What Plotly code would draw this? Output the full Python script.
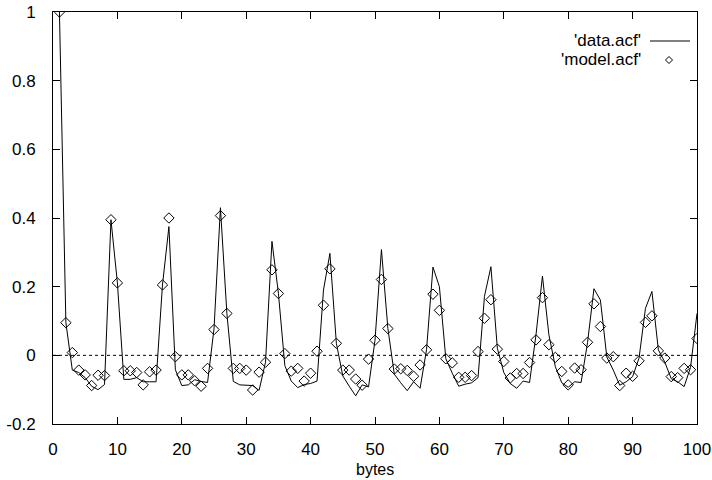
import plotly.graph_objects as go

lags = list(range(1, 101))

data_acf = [
    1.000, 0.095, -0.043, -0.050, -0.065, -0.090, -0.100, -0.085, 0.395, 0.211,
    -0.070, -0.070, -0.065, -0.077, -0.077, -0.077, 0.205, 0.375, -0.042, -0.088,
    -0.086, -0.071, -0.076, -0.079, 0.077, 0.430, 0.122, -0.076, -0.086, -0.086,
    -0.088, -0.102, -0.020, 0.332, 0.181, -0.030, -0.075, -0.094, -0.085, -0.082,
    -0.075, 0.190, 0.297, 0.035, -0.060, -0.090, -0.118, -0.086, -0.092, 0.044,
    0.308, 0.078, -0.055, -0.080, -0.103, -0.077, -0.096, 0.016, 0.257, 0.200,
    -0.010, -0.052, -0.090, -0.084, -0.080, -0.065, 0.172, 0.258, 0.020, -0.050,
    -0.082, -0.096, -0.075, -0.079, 0.060, 0.231, 0.060, -0.033, -0.080, -0.093,
    -0.077, -0.079, 0.037, 0.194, 0.161, -0.005, -0.043, -0.087, -0.077, -0.062,
    -0.008, 0.137, 0.186, 0.016, -0.020, -0.068, -0.077, -0.091, -0.035, 0.122,
]

model_acf = [
    1.000, 0.095, 0.008, -0.043, -0.057, -0.088, -0.058, -0.059, 0.395, 0.211,
    -0.045, -0.045, -0.050, -0.086, -0.048, -0.043, 0.205, 0.400, -0.004, -0.057,
    -0.057, -0.074, -0.090, -0.038, 0.075, 0.407, 0.122, -0.038, -0.038, -0.043,
    -0.101, -0.049, -0.020, 0.249, 0.180, 0.005, -0.046, -0.038, -0.075, -0.052,
    0.012, 0.146, 0.252, 0.035, -0.043, -0.043, -0.069, -0.087, -0.011, 0.044,
    0.221, 0.078, -0.040, -0.039, -0.044, -0.061, -0.028, 0.016, 0.178, 0.131,
    -0.010, -0.022, -0.064, -0.064, -0.059, 0.011, 0.108, 0.162, 0.018, -0.018,
    -0.066, -0.053, -0.053, -0.021, 0.045, 0.168, 0.031, -0.006, -0.047, -0.086,
    -0.037, -0.042, 0.038, 0.150, 0.084, -0.008, -0.004, -0.088, -0.052, -0.061,
    -0.016, 0.096, 0.115, 0.013, -0.008, -0.062, -0.065, -0.038, -0.042, 0.049,
]

x_ticks = [0, 10, 20, 30, 40, 50, 60, 70, 80, 90, 100]
y_ticks = [-0.2, 0, 0.2, 0.4, 0.6, 0.8, 1]
y_ticktext = ["-0.2", "0", "0.2", "0.4", "0.6", "0.8", "1"]
legend_names = ["'data.acf'", "'model.acf'"]
x_title = "bytes"

FONT = "Liberation Sans, Arial, sans-serif"
FS = 17

fig = go.Figure()
fig.add_trace(go.Scatter(
    x=lags, y=data_acf, mode="lines", name=legend_names[0],
    line=dict(color="black", width=1), showlegend=False,
))
fig.add_trace(go.Scatter(
    x=lags, y=model_acf, mode="markers", name=legend_names[1],
    marker=dict(symbol="diamond-open", size=8, color="black", line=dict(width=1, color="black")),
    showlegend=False,
))

# dotted zero axis
fig.add_shape(type="line", xref="paper", yref="y", x0=0, x1=1, y0=0, y1=0,
              line=dict(color="black", width=1, dash="dot"), layer="below")

L, T, W, H = 53.0, 12.0, 644.0, 412.0
def px(x):
    return (x - L) / W
def py(y):
    return 1 - (y - T) / H

# gnuplot-style legend (text right-aligned, sample on the right)
fig.add_annotation(xref="paper", yref="paper", x=px(643), y=py(41),
                   text=legend_names[0], showarrow=False, xanchor="right", yanchor="middle",
                   font=dict(family=FONT, size=FS, color="black"))
fig.add_annotation(xref="paper", yref="paper", x=px(643), y=py(59),
                   text=legend_names[1], showarrow=False, xanchor="right", yanchor="middle",
                   font=dict(family=FONT, size=FS, color="black"))
fig.add_shape(type="line", xref="paper", yref="paper",
              x0=px(650), x1=px(690), y0=py(41), y1=py(41),
              line=dict(color="black", width=1))
cx, cy, r = px(669), py(60), 3.5
fig.add_shape(type="path", xref="paper", yref="paper",
              path=f"M {cx - r / W} {cy} L {cx} {cy + r / H} L {cx + r / W} {cy} L {cx} {cy - r / H} Z",
              line=dict(color="black", width=1))

# x-axis title
fig.add_annotation(xref="paper", yref="paper", x=0.5, y=0, yshift=-(469 - 424),
                   text=x_title, showarrow=False, xanchor="center", yanchor="middle",
                   font=dict(family=FONT, size=16, color="black"))

fig.update_layout(
    width=712, height=480,
    margin=dict(l=53, r=15, t=12, b=56, autoexpand=False),
    paper_bgcolor="white", plot_bgcolor="white",
    font=dict(family=FONT, size=FS, color="black"),
    showlegend=False,
)
fig.update_xaxes(
    range=[0, 100], tickvals=x_ticks, ticks="inside", ticklen=7, tickcolor="black",
    showline=True, linecolor="black", linewidth=1, mirror="ticks",
    showgrid=False, zeroline=False, ticklabelstandoff=10, automargin=False,
    tickfont=dict(family=FONT, size=FS),
)
fig.update_yaxes(
    range=[-0.2, 1], tickvals=y_ticks, ticktext=y_ticktext, ticks="inside", ticklen=7,
    tickcolor="black", showline=True, linecolor="black", linewidth=1, mirror="ticks",
    showgrid=False, zeroline=False, ticklabelstandoff=13, automargin=False,
    tickfont=dict(family=FONT, size=FS),
)

fig.write_html("out.html")
